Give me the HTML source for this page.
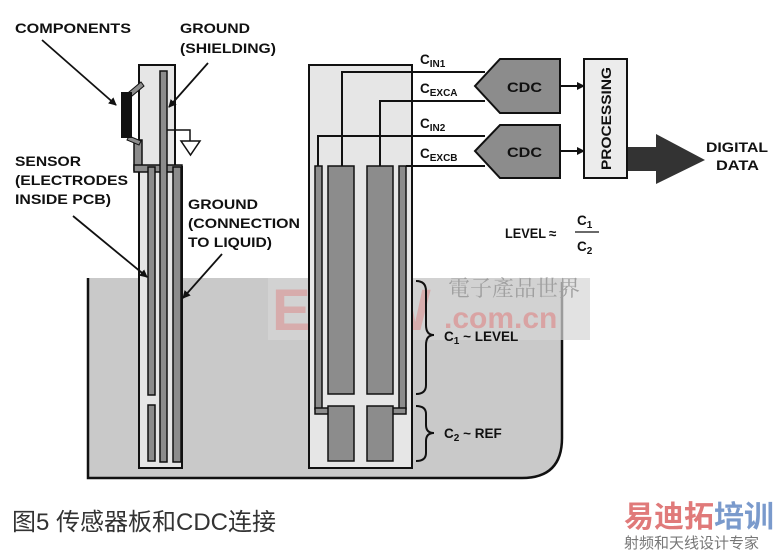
<!DOCTYPE html>
<html><head><meta charset="utf-8"><style>
html,body{margin:0;padding:0;background:#fff;}
svg{display:block;font-family:"Liberation Sans",Arial,sans-serif;}
.l{font-weight:bold;font-size:13.5px;fill:#111;}
</style></head><body>
<svg width="778" height="552" viewBox="0 0 778 552" xmlns="http://www.w3.org/2000/svg">
<defs><marker id="a" markerWidth="8" markerHeight="8" refX="7" refY="4" orient="auto" markerUnits="userSpaceOnUse"><path d="M0,0 L8,4 L0,8 z" fill="#111"/></marker></defs>
<!-- liquid -->
<path d="M88,278 L562,278 L562,438 Q562,478 522,478 L88,478 Z" fill="#c9c9c9"/>
<path d="M88,278 L88,478 L522,478 Q562,478 562,438 L562,282" fill="none" stroke="#111" stroke-width="2.5"/>
<rect x="268" y="278" width="322" height="62" fill="#d6d6d6" opacity="0.7"/>
<!-- watermark -->
<text x="272" y="330" font-size="58" font-weight="bold" fill="#d9a3a3" opacity="0.8" letter-spacing="-4">EEPW</text>
<text x="444" y="328" font-size="30" font-weight="bold" fill="#d9a3a3">.com.cn</text>
<text x="448" y="296" font-size="22" fill="#a0a0a0" font-family="Noto Serif CJK SC,serif">電子產品世界</text>
<!-- left board -->
<rect x="139" y="65" width="36" height="102" fill="#e6e6e6" stroke="#111" stroke-width="2"/>
<rect x="139" y="167" width="43" height="301" fill="#e6e6e6" stroke="#111" stroke-width="2"/>
<rect x="134" y="140" width="8" height="30" fill="#8c8c8c" stroke="#111" stroke-width="1.5"/>
<rect x="134" y="165" width="48" height="7" fill="#8c8c8c" stroke="#111" stroke-width="1.5"/>
<rect x="148" y="167" width="7" height="228" fill="#8c8c8c" stroke="#111" stroke-width="1.5"/>
<rect x="148" y="405" width="7" height="56" fill="#8c8c8c" stroke="#111" stroke-width="1.5"/>
<rect x="160" y="71" width="7" height="391" fill="#8c8c8c" stroke="#111" stroke-width="1.5"/>
<rect x="173" y="167" width="8" height="295" fill="#8c8c8c" stroke="#111" stroke-width="1.5"/>
<path d="M129,92 L141,82 L144,86 L132,96 Z M129,136 L141,141 L139,145 L127,140 Z" fill="#8c8c8c" stroke="#111" stroke-width="1"/>
<rect x="121" y="92" width="11" height="46" fill="#111"/>
<path d="M167,130 L190,130 L190,141" fill="none" stroke="#111" stroke-width="1.5"/>
<path d="M181,141 L200,141 L190.5,155 Z" fill="#fff" stroke="#111" stroke-width="1.5"/>
<!-- left labels -->
<g class="l">
<text x="15" y="33" textLength="116" lengthAdjust="spacingAndGlyphs">COMPONENTS</text>
<text x="180" y="33" textLength="70" lengthAdjust="spacingAndGlyphs">GROUND</text>
<text x="180" y="53" textLength="96" lengthAdjust="spacingAndGlyphs">(SHIELDING)</text>
<text x="15" y="166" textLength="66" lengthAdjust="spacingAndGlyphs">SENSOR</text>
<text x="15" y="185" textLength="113" lengthAdjust="spacingAndGlyphs">(ELECTRODES</text>
<text x="15" y="204" textLength="96" lengthAdjust="spacingAndGlyphs">INSIDE PCB)</text>
<text x="188" y="209" textLength="70" lengthAdjust="spacingAndGlyphs">GROUND</text>
<text x="188" y="228" textLength="112" lengthAdjust="spacingAndGlyphs">(CONNECTION</text>
<text x="188" y="247" textLength="84" lengthAdjust="spacingAndGlyphs">TO LIQUID)</text>
</g>
<g stroke="#111" stroke-width="1.8" fill="none">
<line x1="42" y1="40" x2="116" y2="105" marker-end="url(#a)"/>
<line x1="208" y1="63" x2="169" y2="107" marker-end="url(#a)"/>
<line x1="73" y1="216" x2="147" y2="277" marker-end="url(#a)"/>
<line x1="222" y1="254" x2="183" y2="298" marker-end="url(#a)"/>
</g>
<!-- right sensor -->
<rect x="309" y="65" width="103" height="403" fill="#e6e6e6" stroke="#111" stroke-width="2"/>
<g fill="#8c8c8c" stroke="#111" stroke-width="1.5">
<rect x="315" y="166" width="7" height="243"/>
<rect x="399" y="166" width="7" height="243"/>
<rect x="315" y="408" width="14" height="6"/>
<rect x="392" y="408" width="14" height="6"/>
<rect x="328" y="166" width="26" height="228"/>
<rect x="367" y="166" width="26" height="228"/>
<rect x="328" y="406" width="26" height="55"/>
<rect x="367" y="406" width="26" height="55"/>
</g>
<g stroke="#111" stroke-width="2" fill="none">
<path d="M342,166 L342,72 L485,72"/>
<path d="M380,166 L380,101 L485,101"/>
<path d="M318,166 L318,136 L485,136"/>
<path d="M406,166 L485,166"/>
</g>
<g class="l" font-size="15"><text x="420" y="64">C<tspan font-size="10" dy="3">IN1</tspan></text>
<text x="420" y="93">C<tspan font-size="10" dy="3">EXCA</tspan></text>
<text x="420" y="128">C<tspan font-size="10" dy="3">IN2</tspan></text>
<text x="420" y="158">C<tspan font-size="10" dy="3">EXCB</tspan></text></g>
<!-- CDC -->
<path d="M500,59 L560,59 L560,113 L500,113 L475,86 Z" fill="#8c8c8c" stroke="#111" stroke-width="2"/>
<path d="M500,125 L560,125 L560,178 L500,178 L475,151 Z" fill="#8c8c8c" stroke="#111" stroke-width="2"/>
<text class="l" x="507" y="92" font-size="15" textLength="35" lengthAdjust="spacingAndGlyphs">CDC</text>
<text class="l" x="507" y="157" font-size="15" textLength="35" lengthAdjust="spacingAndGlyphs">CDC</text>
<g stroke="#111" stroke-width="2"><line x1="560" y1="86" x2="584" y2="86" marker-end="url(#a)"/><line x1="560" y1="151" x2="584" y2="151" marker-end="url(#a)"/></g>
<rect x="584" y="59" width="43" height="119" fill="#ececec" stroke="#111" stroke-width="2"/>
<text class="l" font-size="15" transform="translate(611,170) rotate(-90)" textLength="103" lengthAdjust="spacingAndGlyphs">PROCESSING</text>
<path d="M628,147 L656,147 L656,134 L705,160 L656,184 L656,171 L628,171 Z" fill="#333"/>
<text class="l" x="706" y="152" textLength="62" lengthAdjust="spacingAndGlyphs">DIGITAL</text>
<text class="l" x="716" y="170" textLength="43" lengthAdjust="spacingAndGlyphs">DATA</text>
<text class="l" x="505" y="238" textLength="41" lengthAdjust="spacingAndGlyphs">LEVEL</text>
<text class="l" x="549" y="238">≈</text>
<line x1="575" y1="232" x2="599" y2="232" stroke="#111" stroke-width="1.2"/>
<text class="l" x="577" y="225" font-size="15">C<tspan font-size="10" dy="3">1</tspan></text>
<text class="l" x="577" y="251" font-size="15">C<tspan font-size="10" dy="3">2</tspan></text>
<!-- braces -->
<g stroke="#111" stroke-width="2" fill="none">
<path d="M416,281 Q426,281 426,291 L426,325 Q426,335 434,335 Q426,335 426,345 L426,385 Q426,394 416,394"/>
<path d="M416,406 Q426,406 426,414 L426,425 Q426,433 434,433 Q426,433 426,441 L426,453 Q426,461 416,461"/>
</g>
<text class="l" x="444" y="341" font-size="15">C<tspan font-size="10" dy="3">1</tspan><tspan dy="-3"> ~ LEVEL</tspan></text>
<text class="l" x="444" y="438" font-size="15">C<tspan font-size="10" dy="3">2</tspan><tspan dy="-3"> ~ REF</tspan></text>
<!-- caption -->
<text x="12" y="530" font-size="24" fill="#333" font-family="Liberation Sans,Noto Sans CJK SC,sans-serif">图5  传感器板和CDC连接</text>
<text x="624" y="527" font-size="30" font-weight="bold" font-family="Noto Sans CJK SC,sans-serif"><tspan fill="#e07a7a">易迪拓</tspan><tspan fill="#7a9acc">培训</tspan></text>
<text x="624" y="548" font-size="15" fill="#777" font-family="Noto Sans CJK SC,sans-serif">射频和天线设计专家</text>
</svg>
</body></html>
